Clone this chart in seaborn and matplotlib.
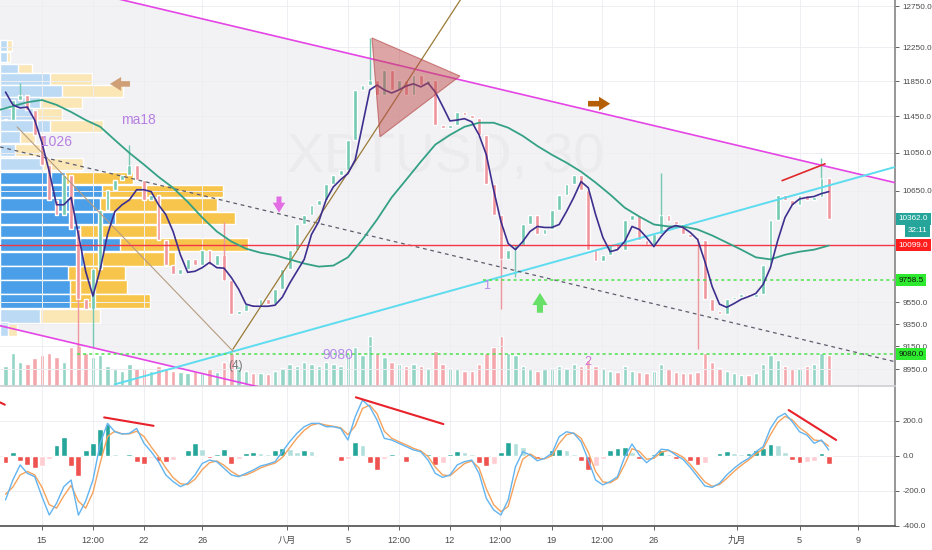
import numpy as np
import matplotlib
matplotlib.use("Agg")
import matplotlib.pyplot as plt
import seaborn as sns
from matplotlib.patches import Polygon
from matplotlib.ticker import NullLocator, FixedFormatter
from matplotlib.transforms import blended_transform_factory

# half-day sampling, days counted from 1 July (1 Aug = 32, 1 Sep = 63)
days = np.arange(12.5, 69.01, 0.5)

closes = [11410, 11635, 11690, 11520, 11245, 10925, 10555, 10405, 10815, 10255,
          9580, 9485, 9865, 10455, 10660, 10765, 10815, 10925, 10765, 10555,
          10610, 10155, 9910, 9815, 9865, 9960, 9910, 10055, 9910, 10005,
          9765, 9440, 9470, 9535, 9505, 9580, 9535, 9675, 9865, 10055,
          10305, 10405, 10505, 10555, 10715, 10815, 10870, 11190, 11750, 11805,
          11865, 11690, 11980, 11750, 11865, 11690, 11920, 11805, 11865, 11355,
          11325, 11355, 11500, 11465, 11435, 11245, 10715, 10405, 9960, 10055,
          10105, 10305, 10405, 10205, 10255, 10455, 10610, 10715, 10815, 10660,
          10055, 9940, 10005, 10105, 10055, 10355, 10405, 10155, 10105, 10205,
          10405, 10335, 10305, 10205, 10175, 10155, 9580, 9470, 9440, 9580,
          9600, 9625, 9605, 9625, 9910, 10355, 10610, 10555, 10505, 10610,
          10555, 10580, 10785, 10360]

ma18 = [11725, 11580, 11545, 11555, 11410, 11160, 10850, 10505, 10505, 10580,
        10205, 9845, 9610, 9865, 10205, 10435, 10505, 10555, 10660, 10660,
        10640, 10505, 10405, 10235, 10005, 9835, 9845, 9880, 9930, 9880,
        9875, 9785, 9675, 9535, 9515, 9515, 9515, 9525, 9600, 9730,
        9845, 9960, 10205, 10335, 10555, 10690, 10765, 10830, 10975, 11355,
        11750, 11805, 11750, 11715, 11750, 11795, 11820, 11785, 11830, 11725,
        11565, 11400, 11410, 11425, 11390, 11245, 11030, 10660, 10335, 10115,
        10055, 10135, 10235, 10285, 10275, 10275, 10305, 10435, 10580, 10745,
        10680, 10405, 10175, 10035, 10055, 10135, 10285, 10255, 10175, 10085,
        10185, 10265, 10295, 10275, 10225, 10155, 9940, 9700, 9535, 9505,
        9540, 9580, 9605, 9635, 9720, 9880, 10145, 10375, 10505, 10565,
        10580, 10590, 10620, 10640]

ma_days = np.arange(12, 70)
ma_long = [11520, 11565, 11610, 11635, 11580, 11500, 11410, 11335, 11190, 11050,
           10925, 10795, 10680, 10535, 10375, 10235, 10135, 10065, 10025, 10000,
           9960, 9920, 9890, 9900, 9980, 10155, 10355, 10580, 10765, 10955,
           11140, 11245, 11335, 11380, 11380, 11325, 11235, 11125, 11030, 10945,
           10850, 10735, 10610, 10475, 10385, 10305, 10285, 10285, 10255, 10195,
           10125, 10055, 9980, 9960, 10005, 10035, 10055, 10095]

volume = [18, 30, 22, 20, 25, 28, 30, 26, 22, 35,
          38, 30, 26, 28, 18, 15, 14, 20, 16, 15,
          14, 18, 16, 14, 13, 12, 14, 12, 15, 13,
          22, 30, 18, 14, 12, 12, 11, 14, 16, 20,
          18, 22, 20, 18, 22, 20, 18, 30, 35, 28,
          45, 30, 26, 22, 20, 18, 20, 18, 16, 32,
          20, 16, 15, 14, 14, 20, 30, 35, 45, 30,
          28, 18, 15, 14, 15, 16, 18, 16, 20, 18,
          24, 18, 16, 14, 13, 18, 14, 13, 12, 14,
          20, 15, 13, 12, 12, 13, 30, 22, 16, 14,
          12, 10, 10, 12, 20, 28, 24, 18, 15, 16,
          18, 20, 30, 28]

spike_days = [13.5, 17.5, 18.5, 21.0, 27.5, 37.5, 46.5, 47.5, 57.5, 60.0, 68.5]
spike_prices = [11830, 9140, 9140, 11138, 10325, 12361, 9487, 9795, 10840, 9125, 10997]

macd = [-253, -139, -53, -101, -120, -234, -339, -272, -177, -139,
        -340, -260, -139, 71, 185, 137, 124, 128, 156, 71,
        23, -34, -110, -148, -177, -158, -110, -44, -25, -34,
        -72, -110, -120, -101, -82, -59, -48, -34, 23, 80,
        128, 166, 185, 185, 166, 166, 156, 90, 223, 318,
        280, 204, 99, 90, 71, 52, 33, 23, -25, -101,
        -124, -110, -53, -34, -25, -101, -244, -310, -339, -253,
        -63, 23, 4, -29, -15, 14, 109, 137, 128, 80,
        -25, -139, -167, -148, -120, -6, 67, 4, -40, -6,
        37, 33, 4, -21, -67, -120, -173, -181, -158, -110,
        -72, -40, -15, 23, 52, 156, 219, 242, 194, 137,
        118, 71, 90, 33]

signal = [-220, -180, -110, -90, -110, -180, -280, -300, -230, -170,
          -260, -300, -210, -40, 110, 140, 125, 125, 140, 110,
          50, -5, -70, -125, -160, -165, -135, -80, -40, -30,
          -55, -90, -115, -110, -92, -70, -55, -42, -10, 45,
          100, 145, 175, 185, 175, 168, 160, 120, 170, 270,
          290, 240, 140, 100, 80, 62, 42, 28, -5, -65,
          -110, -115, -80, -45, -30, -70, -190, -280, -320, -290,
          -140, -20, 10, -15, -18, 0, 70, 120, 130, 100,
          20, -90, -150, -155, -130, -50, 40, 25, -20, -15,
          20, 30, 15, -8, -50, -100, -150, -175, -165, -130,
          -90, -55, -25, 10, 40, 120, 190, 225, 205, 160,
          130, 90, 85, 55]

hist = [-40, 20, -30, -55, -70, -60, -20, 60, 105, -60,
        -115, 30, 70, 150, 180, 10, 5, 10, -35, -50,
        -15, -30, -35, -25, -10, 30, 70, 40, -15, 10,
        40, -45, -20, 15, 20, 15, 10, 35, 42, 38,
        20, 30, 25, -8, 5, -5, -30, -20, 80, 60,
        -40, -80, -20, 10, -10, -35, -10, -5, 10, -55,
        -40, 10, 25, 20, 10, -40, -60, -45, 20, 80,
        70, 50, 15, -20, -10, 35, 40, 30, 10, -30,
        -80, -60, -20, 30, 45, 50, 20, -20, -10, 10,
        30, 8, -20, -15, -30, -55, -40, -10, 15, 25,
        15, 10, 15, 30, 45, 65, 60, 20, -25, -40,
        -35, -30, 15, -50]

# volume profile rows (price centre, buy volume, total volume)
vp_price = [12270, 12133, 11990, 11876, 11738, 11606, 11476, 11345, 11220, 11084,
            10928, 10780, 10645, 10506, 10369, 10239, 10105, 9964, 9830, 9697,
            9565, 9427, 9304]
vp_buy = [7, 7, 18, 50, 62, 40, 33, 50, 20, 15,
          43, 65, 102, 100, 115, 80, 120, 83, 68, 70,
          70, 40, 8]
vp_total = [12, 10, 32, 92, 123, 82, 62, 103, 35, 45,
            83, 133, 223, 217, 235, 157, 248, 175, 125, 127,
            150, 100, 17]

price_ticks = [8950, 9150, 9350, 9550, 10650, 11050, 11450, 11850, 12250, 12750]
macd_ticks = [-400, -200, 0, 200]
xtick_pos = [15, 18.5, 22, 26, 31.8, 36, 39.5, 43, 46.45, 50, 53.45, 57, 62.7, 67, 71]
xtick_labels = ["15", "12:00", "22", "26", "八月", "5", "12:00", "12", "12:00",
                "19", "12:00", "26", "九月", "5", "9"]

sns.set_theme(style="white")
plt.rcParams["font.family"] = ["Liberation Sans", "Noto Sans CJK SC"]
plt.rcParams["axes.unicode_minus"] = False

X0, X1 = 12.12, 73.55
fig = plt.figure(figsize=(9.32, 5.5), dpi=100)
ax = fig.add_axes([0, 1 - 386 / 550, 895 / 932, 386 / 550])
axm = fig.add_axes([0, 1 - 526 / 550, 895 / 932, 139 / 550])
ax.set_yscale("log")
ax.set_ylim(8803, 12827)
ax.set_xlim(X0, X1)
axm.set_xlim(X0, X1)
axm.set_ylim(-402, 393)

# volume pane (bottom layer) + channel shading
axv = ax.twinx()
axv.set_ylim(0, 350)
axv.set_zorder(0)
axv.add_patch(Polygon([(X0, 13195), (X1, 10734), (X1, 7592), (X0, 9336)],
                      closed=True, transform=ax.transData, fc="#f2f2f4", ec="none", zorder=0))
opens = np.r_[closes[0], closes[:-1]]
up = np.array(closes) >= opens
axv.bar(days, volume, width=0.3, color=np.where(up, "#95d5c6", "#f4a8ae"), zorder=2)
axv.set_yticks([])
for s in axv.spines.values():
    s.set_visible(False)

# volume profile
axp = ax.twiny()
axp.set_zorder(1)
axp.set_xlim(0, 895)
in_va = [9560 <= p <= 10790 for p in vp_price]
axp.barh(vp_price, vp_total, height=128,
         color=["#f8c54c" if v else "#fbe6b6" for v in in_va], zorder=1)
axp.barh(vp_price, vp_buy, height=128,
         color=["#4a9fe8" if v else "#bcdaf4" for v in in_va], zorder=2)
axp.set_xticks([])
for s in axp.spines.values():
    s.set_visible(False)

ax.set_zorder(2)
ax.patch.set_visible(False)

ax.text(42.73, 10997, "XBTUSD, 30", fontsize=40, color="#ebebee",
        ha="center", va="center", zorder=0.5)

# candles
lo = np.minimum(opens, closes)
hi = np.maximum(opens, closes)
ax.bar(days, np.maximum(hi - lo, 10), bottom=lo, width=0.26,
       color=np.where(up, "#74c9b2", "#ef959c"), zorder=2)
idx = [int(round((d - 12.5) * 2)) for d in spike_days]
ax.vlines(spike_days, [closes[i] for i in idx], spike_prices,
          colors=["#74c9b2" if up[i] else "#ef959c" for i in idx], lw=1, zorder=2)

sns.lineplot(x=ma_days, y=ma_long, ax=ax, color="#34a186", linewidth=1.3, zorder=4)
sns.lineplot(x=days, y=ma18, ax=ax, color="#3d2f8e", linewidth=1.2, zorder=5)

# drawings
ax.plot([X0, X1], [13195, 10734], color="#e545e5", lw=1.2, zorder=3)
ax.plot([X0, 40], [9336, 8501], color="#e545e5", lw=1.2, zorder=3)
ax.plot([20.0, X1], [8817, 10899], color="#5ddcef", lw=1.4, zorder=3)
ax.plot([X0, X1], [11115, 9014], color="#5c5c6c", lw=0.9, ls=(0, (3, 3)), zorder=3)
ax.plot([13.29, 28.11], [11334, 9107], color="#b59c80", lw=0.8, zorder=3)
ax.plot([28.11, 45.5], [9125, 13337], color="#9a7a36", lw=0.9, zorder=3)
ax.add_patch(Polygon([(37.65, 12361), (43.69, 11910), (38.2, 11225)], closed=True,
                     fc=(0.74, 0.3, 0.3, 0.5), ec=(0.7, 0.25, 0.25, 0.6), lw=0.8, zorder=6))
ax.plot([65.8, 68.75], [10755, 10933], color="#e0282a", lw=1.2, zorder=6)
ax.axhline(10099, color="#f23645", lw=1.0, zorder=3)
ax.hlines(9758.5, 45.3, X1, color="#4be24b", lw=1.1, ls=(0, (2, 2)), zorder=3)
ax.hlines(9080, 17.4, X1, color="#4be24b", lw=1.1, ls=(0, (2, 2)), zorder=3)

lav = "#b67fe2"
ax.text(21.59, 11412, "ma18", fontsize=10, color=lav, ha="center", va="center", zorder=6)
ax.text(16.03, 11169, "1026", fontsize=10, color=lav, ha="center", va="center", zorder=6)
ax.text(28.32, 8979, "(4)", fontsize=8.5, color="#777777", ha="center", va="center", zorder=6)
ax.text(35.32, 9075, "9080", fontsize=10, color="#b58be8", ha="center", va="center", zorder=6)
ax.text(45.54, 9701, "1", fontsize=9, color="#b58be8", ha="center", va="center", zorder=6)
ax.text(52.48, 9014, "2", fontsize=9, color="#d276d6", ha="center", va="center", zorder=6)


def fat_arrow(x0, y0, x1, y1, color, scale=10):
    ax.annotate("", xy=(x1, y1), xytext=(x0, y0), zorder=7,
                arrowprops=dict(arrowstyle="simple,head_width=1.0,head_length=0.8,tail_width=0.4",
                                color=color, lw=0, mutation_scale=scale, shrinkA=0, shrinkB=0))


fat_arrow(21.04, 11819, 19.67, 11819, "#cf9f76")
fat_arrow(52.48, 11593, 54.0, 11593, "#b45f06")
fat_arrow(31.27, 10590, 31.27, 10424, "#e36ee3", scale=9)
fat_arrow(49.18, 9455, 49.18, 9640, "#66e066", scale=11)

# price axis
ax.yaxis.tick_right()
ax.yaxis.set_minor_locator(NullLocator())
ax.set_yticks(price_ticks)
ax.yaxis.set_major_formatter(FixedFormatter([f"{v:.1f}" for v in price_ticks]))
ax.yaxis.set_minor_formatter(FixedFormatter([]))
ax.tick_params(axis="y", labelsize=5.9, colors="#4a4a4a", length=3, pad=2.5, width=0.6)
ax.tick_params(axis="x", bottom=False, labelbottom=False)
ax.set_xticks(xtick_pos)
ax.grid(True, color="#eeeef2", lw=0.7)
for side in ["top", "left"]:
    ax.spines[side].set_visible(False)
ax.spines["right"].set_color("#8a8a8a")
ax.spines["bottom"].set_color("#cfcfd4")

trans = blended_transform_factory(ax.transAxes, ax.transData)
boxes = [(10362, "10362.0", "white", "#26a69a"), (10099, "10099.0", "white", "#ff1e1e"),
         (9758.5, "9758.5", "#111111", "#2eea2e"), (9080, "9080.0", "#111111", "#2eea2e")]
for y, txt, fg, bg in boxes:
    ax.text(1.004, y, txt, transform=trans, fontsize=5.9, color=fg, ha="left", va="center",
            clip_on=False, zorder=10,
            bbox=dict(boxstyle="square,pad=0.3", fc=bg, ec="none"))
ax.text(1.036, 10244, "32:11", transform=trans, fontsize=5.9, color="white", ha="right",
        va="center", clip_on=False, zorder=10,
        bbox=dict(boxstyle="square,pad=0.3", fc="#26a69a", ec="none"))

# MACD pane
hcol = []
prev = 0
for h in hist:
    if h >= 0:
        hcol.append("#26a69a" if h >= prev else "#b2dfdb")
    else:
        hcol.append("#ef5350" if h < prev else "#ffcdd2")
    prev = h
axm.bar(days, hist, width=0.4, color=hcol, zorder=2)
sns.lineplot(x=days, y=signal, ax=axm, color="#f5a25c", linewidth=1.0, zorder=3)
sns.lineplot(x=days, y=macd, ax=axm, color="#62b4f0", linewidth=1.0, zorder=4)
for xs, ys in [([12.12, 12.45], [305, 292]), ([19.27, 22.66], [219, 171]),
               ([36.55, 42.55], [334, 181]), ([66.25, 69.51], [261, 90])]:
    axm.plot(xs, ys, color="#e8222a", lw=1.5, zorder=5)
axm.yaxis.tick_right()
axm.set_yticks(macd_ticks)
axm.set_yticklabels([f"{v:.1f}" for v in macd_ticks])
axm.set_xticks(xtick_pos)
axm.set_xticklabels(xtick_labels)
axm.tick_params(axis="y", labelsize=5.9, colors="#4a4a4a", length=3, pad=2.5, width=0.6)
axm.tick_params(axis="x", labelsize=6.6, colors="#4a4a4a", length=3, pad=4, width=0.6, bottom=True)
axm.grid(True, color="#eeeef2", lw=0.7)
axm.set_ylabel("")
ax.set_ylabel("")
for side in ["top", "left"]:
    axm.spines[side].set_visible(False)
axm.spines["right"].set_color("#8a8a8a")
axm.spines["bottom"].set_color("#555555")

fig.savefig("out.png", dpi=100, facecolor="white")
